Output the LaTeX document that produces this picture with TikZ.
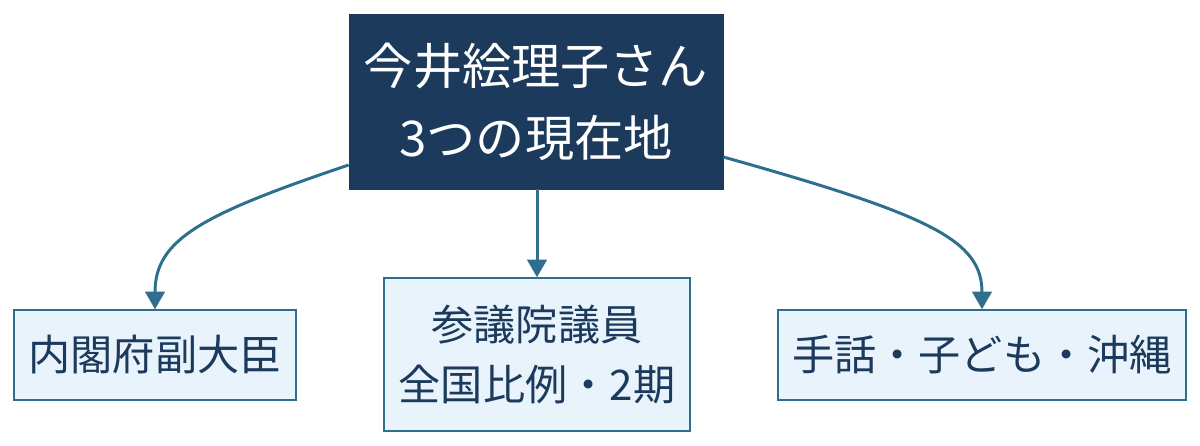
\documentclass[tikz,border=0pt]{standalone}
\usepackage{fontspec}
\setmainfont{Noto Sans CJK JP}
\usetikzlibrary{arrows.meta}
\definecolor{navy}{HTML}{1B3A5C}
\definecolor{edge}{HTML}{2E6F8E}
\definecolor{lite}{HTML}{E8F3FC}
\begin{document}
\begin{tikzpicture}[x=0.02cm,y=-0.02cm,
  top/.style={fill=navy,draw=navy,text=white,font=\fontsize{28}{41}\selectfont,align=center},
  leaf/.style={fill=lite,draw=edge,line width=0.8pt,text=navy,font=\fontsize{24}{34}\selectfont,align=center},
  arr/.style={draw=edge,line width=1.7pt,-{Triangle[length=10pt,width=11pt]}}]
\useasboundingbox (0,0) rectangle (1200,446);
\node[top,minimum width=374*0.02cm,minimum height=175*0.02cm] (t) at (536,101.5) {今井絵理子さん\\3つの現在地};
\node[leaf,minimum width=282*0.02cm,minimum height=90*0.02cm] (a) at (155,355) {内閣府副大臣};
\node[leaf,minimum width=306*0.02cm,minimum height=153*0.02cm] (b) at (537,354.5) {参議院議員\\全国比例・2期};
\node[leaf,minimum width=408*0.02cm,minimum height=90*0.02cm] (c) at (982,355) {手話・子ども・沖縄};
\draw[arr] (t.west|-0,165) .. controls (200,215) and (155,240) .. (a.north);
\draw[arr] (t.south-|b.north) -- (b.north);
\draw[arr] (t.east|-0,157) .. controls (930,215) and (982,240) .. (c.north);
\end{tikzpicture}
\end{document}
